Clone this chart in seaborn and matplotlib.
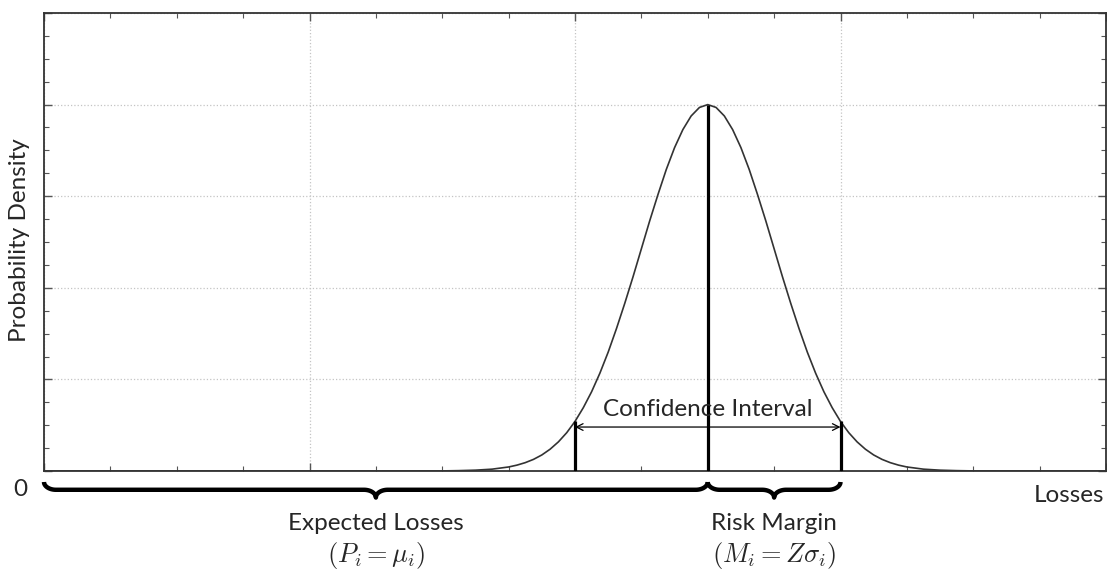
import numpy as np
import pandas as pd
import matplotlib.pyplot as plt
import seaborn as sns

# loss axis positions and the bell curve (peak = 4 at x = 10)
losses = [0, 5, 6, 6.25, 6.5, 6.75, 7, 7.125, 7.25, 7.375, 7.5, 7.625, 7.75, 7.875,
          8, 8.125, 8.25, 8.375, 8.5, 8.625, 8.75, 8.875, 9, 9.125, 9.25, 9.375, 9.5,
          9.625, 9.75, 9.875, 10, 10.125, 10.25, 10.375, 10.5, 10.625, 10.75, 10.875,
          11, 11.125, 11.25, 11.375, 11.5, 11.625, 11.75, 11.875, 12, 12.125, 12.25,
          12.375, 12.5, 12.625, 12.75, 12.875, 13, 13.25, 13.5, 13.75, 14, 15, 16]
density = [0, 0, 0.001, 0.004, 0.009, 0.020, 0.044, 0.064, 0.091, 0.127, 0.175, 0.238,
           0.318, 0.418, 0.541, 0.691, 0.865, 1.068, 1.298, 1.555, 1.831, 2.122, 2.426,
           2.730, 3.018, 3.291, 3.530, 3.727, 3.876, 3.969, 4.0, 3.969, 3.876, 3.727,
           3.530, 3.291, 3.018, 2.730, 2.426, 2.122, 1.831, 1.555, 1.298, 1.068, 0.865,
           0.691, 0.541, 0.418, 0.318, 0.238, 0.175, 0.127, 0.091, 0.064, 0.044, 0.020,
           0.009, 0.004, 0.001, 0, 0]

# vertical markers: lower bound, mean, upper bound
marker_x = [8, 10, 12]
marker_top = [0.541, 4.0, 0.541]

# braces under the axis
brace_spans = [(0, 10), (10, 12)]
brace_titles = ["Expected Losses", "Risk Margin"]
brace_formulas = [r"$(P_i = \mu_i)$", r"$(M_i = Z\sigma_i)$"]

df = pd.DataFrame({"Losses": losses, "Density": density})

sns.set_theme(style="ticks")
plt.rcParams["font.family"] = ["Lato", "DejaVu Sans"]
plt.rcParams["mathtext.fontset"] = "cm"

fig = plt.figure(figsize=(11.07, 5.71), dpi=100)
ax = fig.add_axes([44 / 1107, 1 - 471 / 571, 1062 / 1107, 458 / 571])

sns.lineplot(data=df, x="Losses", y="Density", ax=ax, color="#333333", linewidth=1.2)
ax.vlines(marker_x, 0, marker_top, color="black", linewidth=2.3, zorder=3)

ax.set_xlim(0, 16)
ax.set_ylim(0, 5)
ax.set_xticks(np.arange(0, 17, 4))
ax.set_xticks(np.arange(0, 17, 1), minor=True)
ax.set_yticks(np.arange(0, 6, 1))
ax.set_yticks(np.arange(0, 5.01, 0.25), minor=True)
ax.set_xticklabels([])
ax.set_yticklabels([])
ax.set_xlabel("")
ax.set_ylabel("")
ax.tick_params(which="both", direction="in", top=True, right=True, color="#555555")
ax.tick_params(which="major", length=6, width=1)
ax.tick_params(which="minor", length=3.5, width=0.8)
for s in ax.spines.values():
    s.set_color("#333333")
    s.set_linewidth(1.3)
ax.grid(True, which="major", linestyle=":", color="#c4c4c4", linewidth=0.9)

# confidence interval arrow and label
ax.annotate("", xy=(marker_x[0], 0.48), xytext=(marker_x[2], 0.48),
            arrowprops=dict(arrowstyle="<->", color="black", lw=0.9, shrinkA=0, shrinkB=0))
ax.text(marker_x[1], 0.67, "Confidence Interval", ha="center", va="center", fontsize=17.5)

# curly braces drawn in (data x, axes y) coordinates
xt = ax.get_xaxis_transform()
yl, h, r = -0.041, 0.017, 0.18
t = np.linspace(0, np.pi / 2, 20)
for (a, b), title, formula in zip(brace_spans, brace_titles, brace_formulas):
    m = (a + b) / 2
    xs = np.concatenate([a + r - r * np.cos(t), m - r + r * np.sin(t),
                         m + r - r * np.cos(t), b - r + r * np.sin(t)])
    ys = np.concatenate([yl + h - h * np.sin(t), yl - h + h * np.cos(t),
                         yl - h + h * np.sin(t), yl + h - h * np.cos(t)])
    ax.plot(xs, ys, transform=xt, clip_on=False, color="black", linewidth=3.2,
            solid_capstyle="butt")
    ax.text(m, -0.115, title, transform=xt, ha="center", va="center", fontsize=17.5)
    ax.text(m, -0.185, formula, transform=xt, ha="center", va="center", fontsize=19)

fig.text(20 / 1107, 1 - 490 / 571, "0", ha="center", va="center", fontsize=17.5)
fig.text(1104 / 1107, 1 - 495 / 571, "Losses", ha="right", va="center", fontsize=17.5)
fig.text(20 / 1107, 1 - 240 / 571, "Probability Density", rotation=90,
         ha="center", va="center", fontsize=17.5)

fig.savefig("out.png", dpi=100)
